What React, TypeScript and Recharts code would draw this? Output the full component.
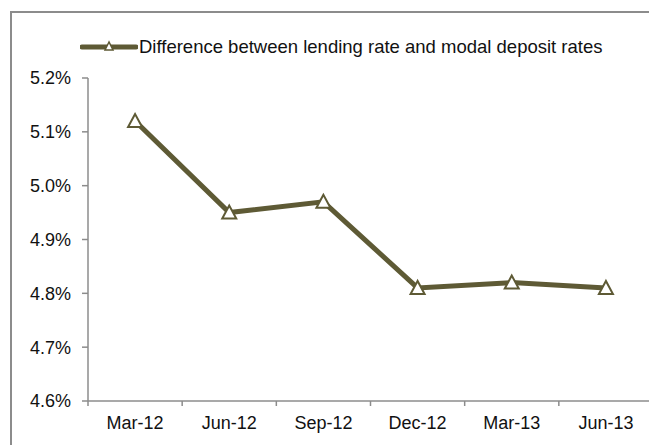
import React from 'react'
import { LineChart, Line, XAxis, YAxis, Legend } from 'recharts'

const categories = ['Mar-12', 'Jun-12', 'Sep-12', 'Dec-12', 'Mar-13', 'Jun-13']
const spreadValues = [5.12, 4.95, 4.97, 4.81, 4.82, 4.81]
const yTicks = [4.6, 4.7, 4.8, 4.9, 5.0, 5.1, 5.2]
const seriesName = 'Difference between lending rate and modal deposit rates'

// category i sits in the middle of slot [i, i+1]
const chartData = categories.map((label, i) => ({
  label,
  pos: i + 0.5,
  spread: spreadValues[i],
}))

const xTicks = categories.flatMap((_, i) => [i, i + 0.5]).concat(categories.length)

const OLIVE = '#5e5a35'
const AXIS = '#8c8c8c'
const FONT = 'Arial, "Liberation Sans", sans-serif'

const TriangleDot = (props: any) => {
  const { cx, cy } = props
  if (cx == null || cy == null) return null
  return (
    <polygon
      points={`${cx},${cy - 7} ${cx - 7},${cy + 6} ${cx + 7},${cy + 6}`}
      fill="#fff"
      stroke={OLIVE}
      strokeWidth={2}
    />
  )
}

// integer ticks = boundary tick marks, half ticks = category labels
const XTick = (props: any) => {
  const { x, y, payload } = props
  const v = payload.value
  const axisY = y - 5 - 10
  if (Number.isInteger(v)) {
    return <line x1={x} y1={axisY} x2={x} y2={axisY + 5} stroke={AXIS} strokeWidth={1.5} />
  }
  return (
    <text x={x} y={y} dy="0.71em" textAnchor="middle" fill="#111" fontSize={18} fontFamily={FONT}>
      {categories[Math.floor(v)]}
    </text>
  )
}

const LegendContent = () => (
  <div style={{ display: 'flex', alignItems: 'center', whiteSpace: 'nowrap' }}>
    <svg width={58} height={20}>
      <line x1={2} y1={10} x2={56} y2={10} stroke={OLIVE} strokeWidth={5} strokeLinecap="round" />
      <polygon points="29,5 25,13 33,13" fill="#fff" stroke={OLIVE} strokeWidth={1.5} />
    </svg>
    <span style={{ fontSize: 18.5, fontFamily: FONT, color: '#111', marginLeft: 1 }}>{seriesName}</span>
  </div>
)

export default function App() {
  return (
    <div style={{ position: 'relative', width: 649, height: 437, overflow: 'hidden' }}>
      <div
        style={{
          position: 'absolute',
          left: 2,
          top: 3,
          width: 800,
          height: 600,
          border: `2px solid ${AXIS}`,
        }}
      />
      <div style={{ position: 'absolute', left: 0, top: 0 }}>
        <LineChart width={649} height={437} data={chartData} margin={{ top: 70, right: 4, bottom: 14, left: 0 }}>
          <XAxis
            dataKey="pos"
            type="number"
            domain={[0, categories.length]}
            ticks={xTicks}
            interval={0}
            tickLine={false}
            tickSize={5}
            tickMargin={10}
            tick={<XTick />}
            axisLine={{ stroke: AXIS, strokeWidth: 1.5 }}
            height={30}
          />
          <YAxis
            domain={[4.6, 5.2]}
            ticks={yTicks}
            interval={0}
            width={80}
            tickSize={6}
            tickMargin={11}
            tickFormatter={(v: number) => `${v.toFixed(1)}%`}
            tick={{ fontSize: 18, fill: '#111', fontFamily: FONT }}
            tickLine={{ stroke: AXIS, strokeWidth: 1.5 }}
            axisLine={{ stroke: AXIS, strokeWidth: 1.5 }}
          />
          <Legend
            layout="horizontal"
            verticalAlign="middle"
            align="center"
            wrapperStyle={{ top: 28, left: 72, width: 'auto' }}
            content={<LegendContent />}
          />
          <Line
            type="linear"
            dataKey="spread"
            name={seriesName}
            stroke={OLIVE}
            strokeWidth={5}
            dot={<TriangleDot />}
            activeDot={false}
            isAnimationActive={false}
          />
        </LineChart>
      </div>
    </div>
  )
}
